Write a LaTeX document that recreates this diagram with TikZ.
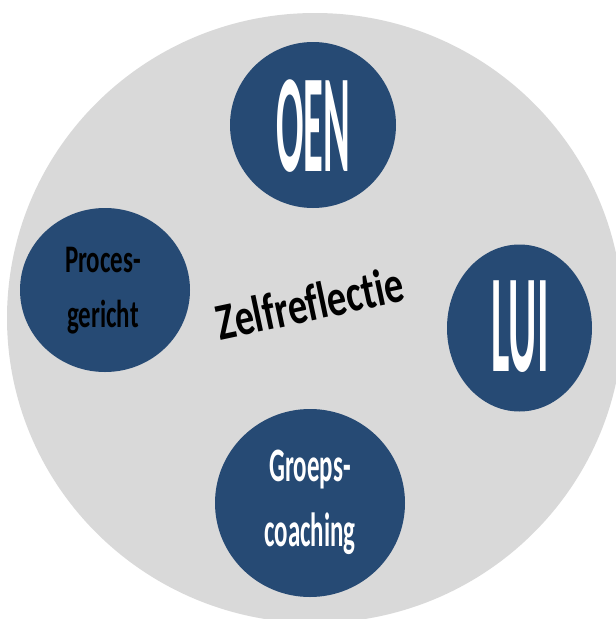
\documentclass[tikz,border=0pt]{standalone}
\usepackage{fontspec}
\setmainfont{Carlito}[Ligatures={NoCommon,NoRequired,NoContextual}]
\usetikzlibrary{shapes.geometric}
\definecolor{navy}{HTML}{264A74}
\definecolor{lightgrey}{HTML}{D9D9D9}
\begin{document}
\begin{tikzpicture}[x=1pt,y=-1pt,
  bubble/.style={ellipse, fill=navy, inner sep=0pt},
  lbl/.style={anchor=base, inner sep=0pt, font=\bfseries},
]
\useasboundingbox (0,0) rectangle (616,619);
\node[ellipse, fill=lightgrey, inner sep=0pt, minimum width=616pt, minimum height=610pt] (bg) at (315,318) {};
% bubbles
\node[bubble, minimum width=166pt, minimum height=166pt] (oen) at (313,125) {};
\node[bubble, minimum width=170pt, minimum height=164pt] (proc) at (105,290) {};
\node[bubble, minimum width=145pt, minimum height=167pt] (lui) at (519.5,328) {};
\node[bubble, minimum width=190pt, minimum height=188pt] (groep) at (310,503) {};
% labels
\node[lbl, text=white] (toen) at (313,171) {\scalebox{0.29}[1]{\fontsize{140}{140}\selectfont OEN}};
\node[lbl, text=white] (tlui) at (520,371) {\scalebox{0.31}[1]{\fontsize{140}{140}\selectfont LUI}};
\node[lbl, text=black] (tproc1) at (103,272) {\scalebox{0.64}[1]{\fontsize{39}{39}\selectfont Proces-}};
\node[lbl, text=black] (tproc2) at (103,327) {\scalebox{0.64}[1]{\fontsize{39}{39}\selectfont gericht}};
\node[lbl, text=white] (tgr1) at (310,481) {\scalebox{0.52}[1]{\fontsize{48}{48}\selectfont Groeps-}};
\node[lbl, text=white] (tgr2) at (310,546) {\scalebox{0.52}[1]{\fontsize{48}{48}\selectfont coaching}};
\node[inner sep=0pt, font=\bfseries, rotate=12] (zelf) at (310,303) {\scalebox{0.74}[1]{\fontsize{52}{52}\selectfont Zelfreflectie}};
\end{tikzpicture}
\end{document}
